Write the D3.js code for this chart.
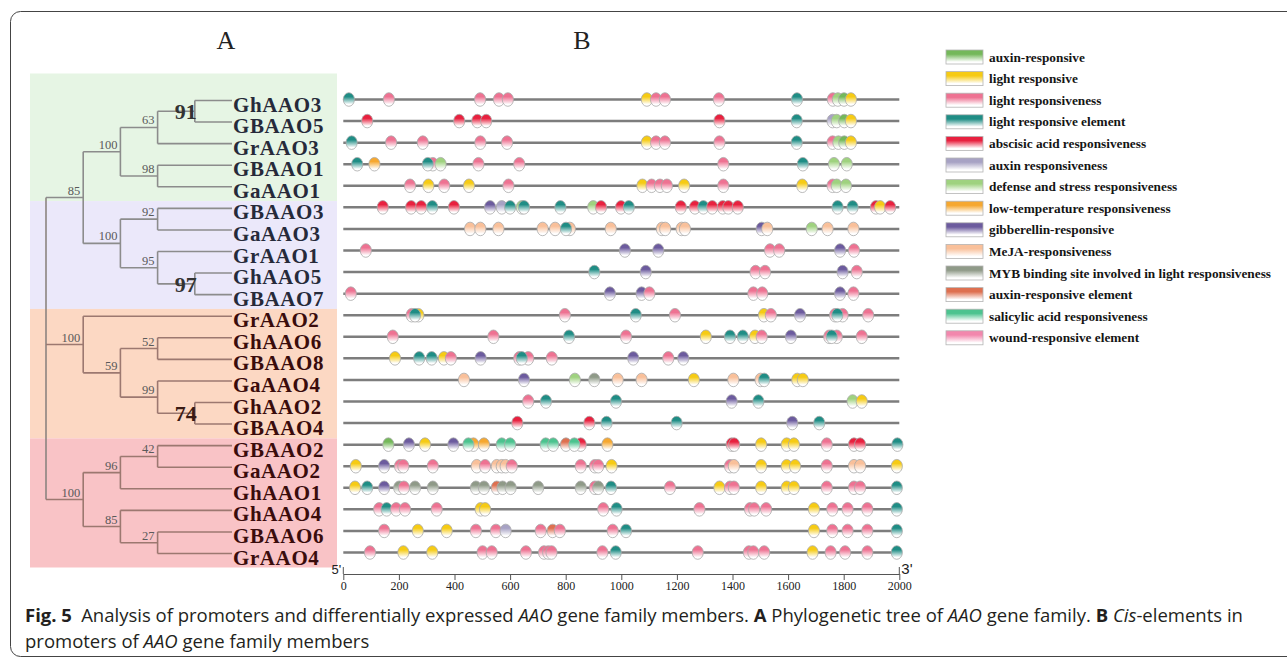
<!DOCTYPE html>
<html>
<head>
<meta charset="utf-8">
<script src="https://d3js.org/d3.v7.min.js"></script>
<style>
body { margin: 0; background: #fff; }
svg text { font-family: "Liberation Serif", "Times New Roman", serif; }
svg text.cap { font-family: "Open Sans", sans-serif; }
</style>
</head>
<body>
<svg id="fig" width="1287" height="659"></svg>
<script>
// ---- data ----
var genes = ["GhAAO3","GBAAO5","GrAAO3","GBAAO1","GaAAO1","GBAAO3","GaAAO3","GrAAO1","GhAAO5","GBAAO7",
             "GrAAO2","GhAAO6","GBAAO8","GaAAO4","GhAAO2","GBAAO4","GBAAO2","GaAAO2","GhAAO1","GhAAO4","GBAAO6","GrAAO4"];

var cladeSizes = [5, 5, 6, 6];
var cladeColors = ["#e6f5e4", "#ebe8fa", "#fcd8c3", "#f9c3c6"];

var elementNames = ["auxin-responsive","light responsive","light responsiveness","light responsive element",
  "abscisic acid responsiveness","auxin responsiveness","defense and stress responsiveness",
  "low-temperature responsiveness","gibberellin-responsive","MeJA-responsiveness",
  "MYB binding site involved in light responsiveness","auxin-responsive element",
  "salicylic acid responsiveness","wound-responsive element"];
var elementColors = ["#74b85a","#f6cb14","#ee7292","#1f8d85","#e8213f","#a7a2c4","#9fd27f",
  "#f6a830","#6c5b9e","#f9c09a","#8f9a88","#de7050","#4cc38f","#f287ad"];

var axisTicks = [0,200,400,600,800,1000,1200,1400,1600,1800,2000];

// [position, element index] per gene, same order as genes
var sites = [
  [[20,3],[164,2],[492,2],[560,2],[592,2],[1092,1],[1125,2],[1157,2],[1351,2],[1632,3],[1761,2],[1779,6],[1801,0],[1826,1]],
  [[86,4],[417,4],[482,4],[514,4],[1353,4],[1631,3],[1760,5],[1775,6],[1802,0],[1826,1]],
  [[30,3],[172,2],[286,2],[493,2],[589,2],[1092,1],[1125,2],[1157,2],[1353,2],[1631,3],[1760,2],[1781,6],[1802,0],[1826,1]],
  [[50,3],[112,7],[322,2],[304,3],[350,6],[486,2],[633,2],[1367,2],[1653,3],[1765,6],[1811,6]],
  [[240,2],[306,1],[363,2],[452,1],[594,2],[1076,1],[1109,2],[1139,2],[1164,2],[1226,1],[1367,2],[1651,1],[1760,2],[1775,6],[1808,6]],
  [[142,4],[244,4],[280,4],[320,3],[398,4],[528,8],[570,5],[600,3],[642,6],[650,3],[781,3],[899,6],[927,4],[999,4],[1027,3],
   [1214,4],[1265,4],[1295,3],[1327,4],[1365,4],[1385,4],[1419,4],[1778,3],[1832,3],[1916,4],[1931,1],[1967,4]],
  [[456,9],[493,9],[558,9],[717,9],[762,9],[815,9],[801,3],[962,9],[1146,9],[1158,9],[1217,9],[1229,9],[1505,8],[1525,9],[1685,6],[1742,9],[1835,9]],
  [[81,2],[1013,8],[1133,8],[1535,2],[1568,2],[1787,8],[1837,2]],
  [[903,3],[1088,8],[1483,2],[1517,2],[1796,8],[1847,2]],
  [[27,2],[959,8],[1073,8],[1101,2],[1475,2],[1507,2],[1787,8],[1835,2]],
  [[246,2],[270,1],[258,3],[797,2],[1052,3],[1193,2],[1513,1],[1538,2],[1643,8],[1769,2],[1796,2],[1777,3],[1888,2]],
  [[178,2],[540,2],[812,3],[1017,2],[1304,1],[1391,3],[1437,3],[1481,1],[1505,2],[1610,8],[1748,2],[1775,2],[1757,3],[1865,2]],
  [[186,1],[273,3],[318,3],[362,1],[387,2],[494,8],[633,2],[665,2],[642,3],[750,2],[1043,8],[1169,2],[1223,8]],
  [[434,9],[650,8],[833,6],[903,10],[987,9],[1073,9],[1261,1],[1403,9],[1501,9],[1514,3],[1633,1],[1653,1]],
  [[665,2],[729,3],[981,3],[1397,8],[1493,3],[1832,6],[1865,1]],
  [[626,4],[885,4],[947,3],[1199,3],[1615,8],[1712,3]],
  [[162,0],[236,8],[294,1],[396,8],[468,7],[450,12],[506,7],[570,12],[600,12],[728,12],[755,12],[801,11],[854,4],[831,12],[950,7],
   [1397,4],[1406,4],[1503,1],[1595,1],[1621,1],[1739,2],[1837,4],[1859,4],[1993,3]],
  [[45,1],[147,8],[204,2],[216,2],[322,2],[480,9],[510,2],[552,9],[570,9],[584,9],[606,2],[854,2],[905,2],[917,2],[965,1],
   [1391,2],[1405,9],[1503,1],[1595,1],[1625,1],[1739,2],[1837,9],[1859,9],[1991,1]],
  [[42,1],[86,3],[147,8],[201,10],[218,2],[258,10],[322,10],[477,10],[506,10],[552,11],[573,10],[602,10],[701,10],[854,10],[905,2],
   [917,10],[963,3],[1175,2],[1353,1],[1391,2],[1405,2],[1503,1],[1595,1],[1621,1],[1739,2],[1837,2],[1859,2],[1991,3]],
  [[129,2],[156,3],[190,2],[222,2],[336,2],[494,1],[510,1],[935,2],[983,3],[1281,2],[1463,2],[1478,2],[1521,2],[1693,1],[1759,2],[1814,2],[1885,2],[1991,3]],
  [[147,2],[268,1],[372,1],[477,2],[549,2],[584,5],[710,2],[753,11],[779,2],[969,2],[1017,3],[1693,1],[1759,2],[1814,2],[1885,2],[1991,3]],
  [[96,2],[216,1],[320,1],[501,2],[534,2],[657,2],[722,2],[737,2],[749,2],[932,2],[980,3],[1275,2],[1459,2],[1475,2],[1514,2],
   [1688,1],[1753,2],[1805,2],[1885,2],[1991,3]]
];

// phylogenetic tree, bootstrap values as node names
var tree = {children: [
  {name: "85", children: [
    {name: "100", children: [
      {name: "63", children: [{name: "91", children: [{name: "GhAAO3"}, {name: "GBAAO5"}]}, {name: "GrAAO3"}]},
      {name: "98", children: [{name: "GBAAO1"}, {name: "GaAAO1"}]}]},
    {name: "100", children: [
      {name: "92", children: [{name: "GBAAO3"}, {name: "GaAAO3"}]},
      {name: "95", children: [{name: "GrAAO1"}, {name: "97", children: [{name: "GhAAO5"}, {name: "GBAAO7"}]}]}]}]},
  {name: "100", children: [
    {name: "GrAAO2"},
    {name: "59", children: [
      {name: "52", children: [{name: "GhAAO6"}, {name: "GBAAO8"}]},
      {name: "99", children: [{name: "GaAAO4"}, {name: "74", children: [{name: "GhAAO2"}, {name: "GBAAO4"}]}]}]}]},
  {name: "100", children: [
    {name: "96", children: [{name: "42", children: [{name: "GBAAO2"}, {name: "GaAAO2"}]}, {name: "GhAAO1"}]},
    {name: "85", children: [{name: "GhAAO4"}, {name: "27", children: [{name: "GBAAO6"}, {name: "GrAAO4"}]}]}]}
]};

// ---- scales ----
var svg = d3.select("#fig");

var x = d3.scaleLinear().domain([0, 2000]).range([343.3, 899.3]);
var y = d3.scalePoint().domain(genes).range([99.5, 552.5]);
var step = y.step();
var depthX = d3.scaleLinear().domain([0, 5]).range([46, 232]);

// outer frame
svg.append("rect")
  .attr("x", 10.5).attr("y", 11.5).attr("width", 1300).attr("height", 645)
  .attr("rx", 10).attr("fill", "none").attr("stroke", "#444").attr("stroke-width", 1);

// panel letters
svg.append("text").attr("x", 226).attr("y", 49).attr("text-anchor", "middle")
  .attr("font-size", 26).attr("fill", "#222").text("A");
svg.append("text").attr("x", 582).attr("y", 49).attr("text-anchor", "middle")
  .attr("font-size", 26).attr("fill", "#222").text("B");

// gradients
var defs = svg.append("defs");
elementColors.forEach(function(c, i) {
  var g = defs.append("linearGradient").attr("id", "grad" + i)
    .attr("x1", 0).attr("y1", 0).attr("x2", 0).attr("y2", 1);
  g.append("stop").attr("offset", "0%").attr("stop-color", c);
  g.append("stop").attr("offset", "30%").attr("stop-color", c);
  g.append("stop").attr("offset", "85%").attr("stop-color", "#fff");
});

// ---- clade background ----
var start = 0;
cladeSizes.forEach(function(n, i) {
  var first = genes[start], last = genes[start + n - 1];
  var top = i == 0 ? y(first) - 26 : y(first) - step / 2 + 4.5;
  var bottom = i == cladeSizes.length - 1 ? y(last) + 15 : y(last) + step / 2 + 4.5;
  svg.append("rect").attr("x", 30).attr("y", top).attr("width", 307).attr("height", bottom - top)
    .attr("fill", cladeColors[i]);
  start += n;
});

// ---- tree ----
var root = d3.hierarchy(tree);
root.eachAfter(function(d) {
  if (!d.children) { d.ty = y(d.data.name) + 1; d.tx = depthX(5); }
  else { d.ty = d3.mean(d.children, function(c) { return c.ty; }); d.tx = depthX(d.depth); }
});
root.each(function(d) {
  d.clade = d.depth == 0 ? 0 : (d.depth == 1 ? root.children.indexOf(d) : d.parent.clade);
});
var branchColor = function(d) { return d.clade == 0 ? "#8c8c8c" : "#9c7870"; };

var tg = svg.append("g").attr("fill", "none").attr("stroke-width", 1.6);
root.descendants().forEach(function(d) {
  if (d.children) {
    tg.append("line").attr("x1", d.tx).attr("x2", d.tx)
      .attr("y1", d3.min(d.children, function(c) { return c.ty; }))
      .attr("y2", d3.max(d.children, function(c) { return c.ty; }))
      .attr("stroke", d.depth == 0 ? "#8c8480" : branchColor(d));
  }
  if (d.parent) {
    tg.append("line").attr("x1", d.parent.tx).attr("x2", d.tx)
      .attr("y1", d.ty).attr("y2", d.ty).attr("stroke", branchColor(d));
  }
});

// bootstrap labels
root.descendants().filter(function(d) { return d.children && d.depth > 0; }).forEach(function(d) {
  var big = d.depth == 4;
  svg.append("text")
    .attr("x", big ? d.tx + 2 : d.tx - 3)
    .attr("y", big ? d.ty + 8 : d.ty - 3)
    .attr("text-anchor", "end")
    .attr("font-size", big ? 22 : 12.5)
    .attr("font-weight", big ? "bold" : "normal")
    .attr("fill", big ? (d.clade == 0 ? "#333" : "#3a1a14") : "#5a5a5a")
    .text(d.data.name);
});

// leaf labels
root.leaves().forEach(function(d) {
  svg.append("text").attr("x", d.tx + 1).attr("y", d.ty + 11)
    .attr("font-size", 21).attr("font-weight", "bold").attr("letter-spacing", 0.6)
    .attr("fill", genes.indexOf(d.data.name) < 10 ? "#262a3a" : "#3a0c0c")
    .text(d.data.name);
});

// ---- promoter rows ----
var rows = svg.append("g");
rows.selectAll("line.row").data(genes).enter().append("line")
  .attr("class", "row")
  .attr("x1", x(0)).attr("x2", x(2000))
  .attr("y1", function(d) { return y(d); }).attr("y2", function(d) { return y(d); })
  .attr("stroke", "#7d7d7d").attr("stroke-width", 2.5);

genes.forEach(function(g, i) {
  rows.selectAll("ellipse.s" + i).data(sites[i]).enter().append("ellipse")
    .attr("class", "s" + i)
    .attr("cx", function(d) { return x(d[0]); })
    .attr("cy", y(g))
    .attr("rx", 5.6).attr("ry", 6.8)
    .attr("fill", function(d) { return "url(#grad" + d[1] + ")"; })
    .attr("stroke", "#a9a9a9").attr("stroke-width", 0.8);
});

// axis
var axisG = svg.append("g").attr("transform", "translate(0,574)")
  .call(d3.axisBottom(x).tickValues(axisTicks).tickSize(6).tickSizeOuter(0).tickFormat(d3.format("d")));
axisG.select(".domain").attr("stroke", "#555");
axisG.selectAll(".tick line").attr("stroke", "#555");
axisG.selectAll(".tick text").attr("font-family", "Liberation Serif").attr("font-size", 12).attr("fill", "#222").attr("dy", "0.6em");
[0, 2000].forEach(function(v) {
  axisG.append("line").attr("x1", x(v)).attr("x2", x(v)).attr("y1", -7).attr("y2", 0).attr("stroke", "#555");
});
svg.append("text").attr("x", x(0) - 2).attr("y", 574).attr("text-anchor", "end")
  .style("font-family", "Liberation Sans").attr("font-size", 13).attr("fill", "#222").text("5'");
svg.append("text").attr("x", x(2000) + 2).attr("y", 574)
  .style("font-family", "Liberation Sans").attr("font-size", 15).attr("fill", "#222").text("3'");

// ---- legend ----
var ly = d3.scalePoint().domain(elementNames).range([57, 337.8]);
var leg = svg.append("g");
elementNames.forEach(function(n, i) {
  leg.append("rect").attr("x", 946).attr("y", ly(n) - 7).attr("width", 37).attr("height", 14)
    .attr("fill", "url(#grad" + i + ")").attr("stroke", "#b5b5b5").attr("stroke-width", 0.8);
  leg.append("text").attr("x", 989).attr("y", ly(n) + 4.5)
    .attr("font-size", 13.3).attr("font-weight", "bold").attr("fill", "#151515").text(n);
});

// ---- caption ----
var cap = svg.append("g").attr("fill", "#231f20");
var l1 = cap.append("text").attr("class", "cap").attr("x", 25).attr("y", 622).attr("font-size", 18.5)
  .attr("letter-spacing", 0);
l1.append("tspan").attr("font-weight", "bold").text("Fig. 5");
l1.append("tspan").text("\u2002Analysis of promoters and differentially expressed ");
l1.append("tspan").attr("font-style", "italic").text("AAO");
l1.append("tspan").text(" gene family members. ");
l1.append("tspan").attr("font-weight", "bold").text("A");
l1.append("tspan").text(" Phylogenetic tree of ");
l1.append("tspan").attr("font-style", "italic").text("AAO");
l1.append("tspan").text(" gene family. ");
l1.append("tspan").attr("font-weight", "bold").text("B");
l1.append("tspan").text(" ");
l1.append("tspan").attr("font-style", "italic").text("Cis");
l1.append("tspan").text("-elements in");
var l2 = cap.append("text").attr("class", "cap").attr("x", 25).attr("y", 648).attr("font-size", 18.5)
  .attr("letter-spacing", 0);
l2.append("tspan").text("promoters of ");
l2.append("tspan").attr("font-style", "italic").text("AAO");
l2.append("tspan").text(" gene family members");
</script>
</body>
</html>
